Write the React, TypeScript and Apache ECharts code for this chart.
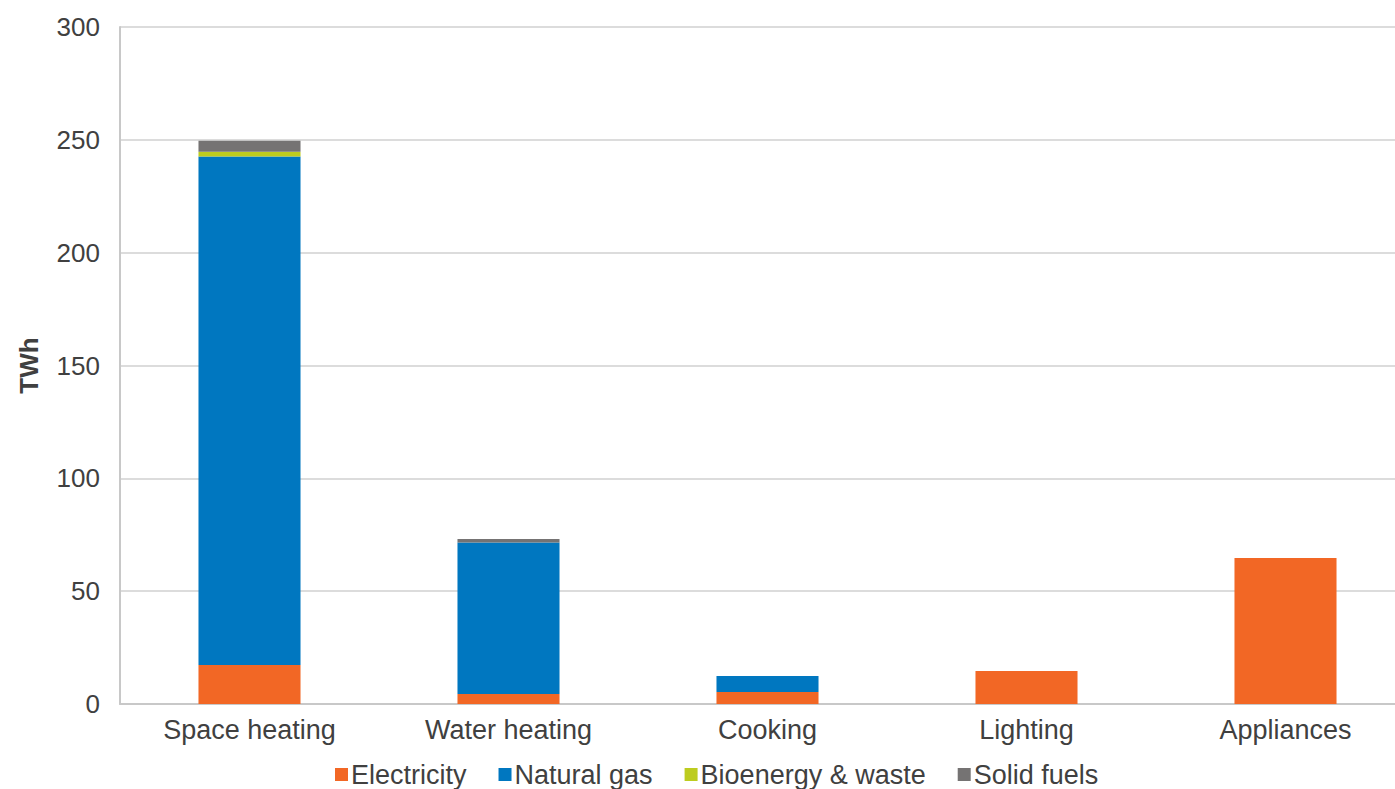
import React, { useEffect, useRef } from "react";
import * as echarts from "echarts";

const categories = ["Space heating", "Water heating", "Cooking", "Lighting", "Appliances"];
const electricity = [17.3, 4.4, 5.3, 14.6, 64.7];
const naturalGas = [225.3, 67.2, 7.1, 0, 0];
const bioenergy = [2.1, 0, 0, 0, 0];
const solidFuels = [4.9, 1.5, 0, 0, 0];
const yTicks = [0, 50, 100, 150, 200, 250, 300];

const FONT = "Liberation Sans, Arial, Helvetica, sans-serif";

export default function App() {
  const ref = useRef<HTMLDivElement>(null);
  useEffect(() => {
    if (!ref.current) return;
    const chart = echarts.init(ref.current, null, { renderer: "svg" });
    const mk = (name: string, data: number[], color: string) => ({
      name,
      type: "bar",
      stack: "total",
      data,
      barWidth: "39.4%",
      itemStyle: { color },
    });
    chart.setOption({
      animation: false,
      textStyle: { fontFamily: FONT },
      grid: { left: 120, right: 0, top: 27, bottom: 85, containLabel: false },
      legend: {
        bottom: -4,
        left: 330,
        itemWidth: 13,
        itemHeight: 13,
        itemGap: 32,
        icon: "rect",
        textStyle: { fontSize: 27, color: "#404040", fontFamily: FONT, padding: [0, 0, 0, -2] },
        data: ["Electricity", "Natural gas", "Bioenergy & waste", "Solid fuels"],
      },
      xAxis: {
        type: "category",
        data: categories,
        axisLine: { lineStyle: { color: "#c8c8c8", width: 2 } },
        axisTick: { show: false },
        axisLabel: { fontSize: 27, color: "#404040", margin: 12, fontFamily: FONT },
      },
      yAxis: {
        type: "value",
        min: yTicks[0],
        max: yTicks[yTicks.length - 1],
        interval: 50,
        name: "TWh",
        nameLocation: "middle",
        nameGap: 78,
        nameRotate: 90,
        nameTextStyle: { fontSize: 26, fontWeight: "bold", color: "#404040", fontFamily: FONT },
        axisLine: { show: true, lineStyle: { color: "#c8c8c8", width: 2 } },
        axisTick: { show: false },
        axisLabel: { fontSize: 26, color: "#404040", margin: 20, fontFamily: FONT },
        splitLine: { lineStyle: { color: "#d0d0d0", width: 1.5 } },
      },
      series: [
        mk("Electricity", electricity, "#f26725"),
        mk("Natural gas", naturalGas, "#0077c0"),
        mk("Bioenergy & waste", bioenergy, "#bdcc1f"),
        mk("Solid fuels", solidFuels, "#757373"),
      ],
    });
    return () => chart.dispose();
  }, []);
  return (
    <div style={{ width: 1395, height: 789, position: "absolute", left: 0, top: 0, overflow: "hidden", background: "#fff" }}>
      <div ref={ref} style={{ width: 1415, height: 789 }} />
    </div>
  );
}
